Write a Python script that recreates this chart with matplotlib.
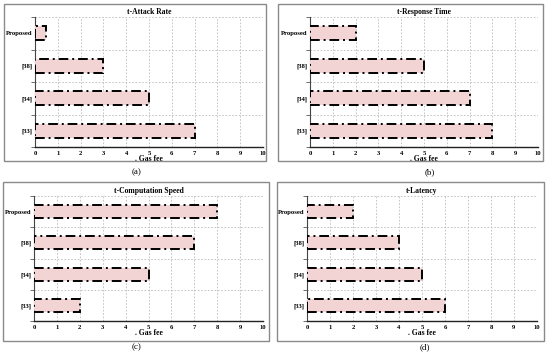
import matplotlib
matplotlib.use("Agg")
import matplotlib.pyplot as plt
from matplotlib.patches import Rectangle
from matplotlib.ticker import FixedLocator

categories = ["[33]", "[34]", "[38]", "Proposed"]
attack_rate = [7, 5, 3, 0.5]
response_time = [8, 7, 5, 2]
computation_speed = [2, 5, 7, 8]
latency = [6, 5, 4, 2]
titles = ["t-Attack Rate", "t-Response Time", "t-Computation Speed", "t-Latency"]
captions = ["(a)", "(b)", "(c)", "(d)"]
xlabel = ". Gas fee"
xticks = list(range(0, 11))

W, H = 550, 358
fig = plt.figure(figsize=(W / 100, H / 100), dpi=100)
fig.patch.set_facecolor("white")

serif = ["Liberation Serif", "DejaVu Serif"]

# pixel layouts: (axes left, right, top, bottom), (box left, right, top, bottom), caption (x, y)
layouts = [
    ((35, 263, 17, 147), (4, 266, 4, 161), (137, 172)),
    ((310, 538, 17, 147), (278, 543, 4, 161), (430, 172)),
    ((34, 263, 196, 321), (3, 269, 182, 341), (137, 347)),
    ((307, 537, 196, 321), (277, 544, 182, 341), (425, 347)),
]
series = [attack_rate, response_time, computation_speed, latency]

for vals, title, cap, (ax_px, box_px, cap_px) in zip(series, titles, captions, layouts):
    l, r, t, b = box_px
    fig.patches.append(Rectangle((l / W, 1 - b / H), (r - l) / W, (b - t) / H,
                                 transform=fig.transFigure, fill=False,
                                 edgecolor="#8a8a8a", linewidth=1.0))
    l, r, t, b = ax_px
    ax = fig.add_axes([l / W, 1 - b / H, (r - l) / W, (b - t) / H])
    ypos = list(range(len(categories)))
    ax.barh(ypos, vals, height=0.42, color="#f2d4d4", edgecolor="black",
            linewidth=1.4, linestyle=(0, (5, 2, 1, 2)), zorder=3)
    ax.set_xlim(0, 10)
    ax.set_ylim(-0.5, len(categories) - 0.5)
    ax.set_xticks(xticks)
    ax.set_xticklabels([str(x) for x in xticks], fontfamily=serif,
                       fontweight="bold", fontsize=4.8)
    ax.set_yticks(ypos)
    ax.set_yticklabels(categories, fontfamily=serif, fontweight="bold", fontsize=4.8)
    ax.yaxis.set_minor_locator(FixedLocator([i - 0.5 for i in range(len(categories) + 1)]))
    ax.tick_params(axis="y", which="major", length=0, pad=2)
    ax.tick_params(axis="y", which="minor", length=3, width=0.6, color="#555555")
    ax.tick_params(axis="x", which="major", length=0, pad=3)
    ax.grid(axis="x", which="major", linestyle=(0, (2, 2)), color="#bbbbbb", linewidth=0.6, zorder=0)
    ax.grid(axis="y", which="minor", linestyle=(0, (2, 2)), color="#bbbbbb", linewidth=0.6, zorder=0)
    for s in ["top", "right"]:
        ax.spines[s].set_visible(False)
    ax.spines["left"].set_color("#444444")
    ax.spines["left"].set_linewidth(0.8)
    ax.spines["bottom"].set_color("#222222")
    ax.spines["bottom"].set_linewidth(1.0)
    ax.set_title(title, fontfamily=serif, fontweight="bold", fontsize=5.5, pad=2)
    ax.set_xlabel(xlabel, fontfamily=serif, fontweight="bold", fontsize=5.5, labelpad=-1)
    fig.text(cap_px[0] / W, 1 - cap_px[1] / H, cap, ha="center", va="center",
             fontfamily=serif, fontsize=6.5)

fig.savefig("out.png", dpi=100, facecolor="white")
